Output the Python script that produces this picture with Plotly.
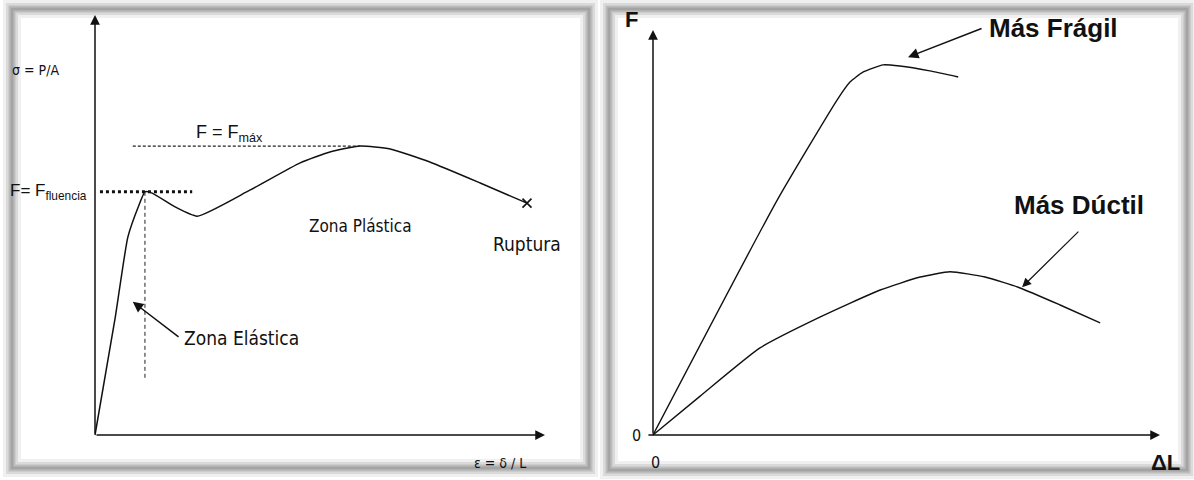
import plotly.graph_objects as go

# ---------------- data (abstract units) ----------------
# Left: stress-strain curve (ε, σ)
strain = [0.0, 0.45, 0.73, 0.98, 1.11, 1.27, 1.78, 2.27, 3.44, 4.56, 5.22, 5.89, 6.56, 7.44, 8.56, 9.60]
stress = [0.0, 2.80, 4.71, 5.48, 5.79, 5.76, 5.43, 5.21, 5.83, 6.48, 6.74, 6.88, 6.81, 6.50, 6.00, 5.52]
yield_strain, yield_stress = 1.11, 5.79
max_strain, max_stress = 5.89, 6.88
rupture_strain, rupture_stress = 9.60, 5.52
elastic_limit_low = 1.36

# Right: force-elongation curves (ΔL, F)
fragil_dl = [0.0, 2.45, 3.63, 3.89, 4.14, 4.54, 4.87, 5.46, 6.02]
fragil_f = [0.0, 5.80, 8.27, 8.72, 8.96, 9.14, 9.11, 8.99, 8.84]
ductil_dl = [0.0, 0.93, 2.11, 3.29, 4.48, 5.27, 5.86, 6.55, 7.24, 8.03, 8.82]
ductil_f = [0.0, 0.96, 2.15, 2.91, 3.58, 3.90, 4.03, 3.90, 3.63, 3.21, 2.77]

W, H = 1194, 480
NARROW = "DejaVu Sans Condensed, Liberation Sans Narrow, sans-serif"
SANS = "Liberation Sans, Arial, sans-serif"

fig = go.Figure()

# ---- left panel traces ----
fig.add_trace(go.Scatter(x=strain, y=stress, mode="lines",
                         line=dict(color="#111", width=1.5, shape="spline", smoothing=0.5),
                         xaxis="x", yaxis="y", hoverinfo="skip"))
fig.add_trace(go.Scatter(x=[0.11, 2.16], y=[yield_stress, yield_stress], mode="lines",
                         line=dict(color="#111", width=3, dash="dot"),
                         xaxis="x", yaxis="y", hoverinfo="skip"))
fig.add_trace(go.Scatter(x=[0.84, max_strain], y=[max_stress, max_stress], mode="lines",
                         line=dict(color="#222", width=1.2, dash="3px,2px"),
                         xaxis="x", yaxis="y", hoverinfo="skip"))
fig.add_trace(go.Scatter(x=[yield_strain, yield_strain], y=[yield_stress, elastic_limit_low], mode="lines",
                         line=dict(color="#222", width=1, dash="4px,3px"),
                         xaxis="x", yaxis="y", hoverinfo="skip"))
fig.add_trace(go.Scatter(x=[rupture_strain], y=[rupture_stress], mode="markers",
                         marker=dict(symbol="x-thin", size=9, line=dict(color="#111", width=1.6)),
                         xaxis="x", yaxis="y", hoverinfo="skip"))

# ---- right panel traces ----
fig.add_trace(go.Scatter(x=fragil_dl, y=fragil_f, mode="lines",
                         line=dict(color="#111", width=1.4, shape="spline", smoothing=0.5),
                         xaxis="x2", yaxis="y2", hoverinfo="skip"))
fig.add_trace(go.Scatter(x=ductil_dl, y=ductil_f, mode="lines",
                         line=dict(color="#111", width=1.4, shape="spline", smoothing=0.5),
                         xaxis="x2", yaxis="y2", hoverinfo="skip"))

ann = []


def arrow(x, y, ax, ay, xr, yr, width=1.5, size=1.3, head=2):
    ann.append(dict(x=x, y=y, ax=ax, ay=ay, xref=xr, yref=yr, axref=xr, ayref=yr,
                    text="", showarrow=True, arrowhead=head, arrowsize=size,
                    arrowwidth=width, arrowcolor="#111", font=dict(size=10)))


def label(x, y, text, xr, yr, size, family, xanchor="center", color="#111"):
    ann.append(dict(x=x, y=y, xref=xr, yref=yr, text=text, showarrow=False,
                    xanchor=xanchor, yanchor="middle",
                    font=dict(size=size, family=family, color=color)))


# axes with arrows
arrow(0, 10, 0, 0, "x", "y")
arrow(10, 0, 0, 0, "x", "y")
arrow(0, 10, 0, 0, "x2", "y2")
arrow(10, 0, -0.12, 0, "x2", "y2")

# left annotations
arrow(0.84, 3.17, 1.89, 2.31, "x", "y", width=1.5, size=1.4)
label(1.93, 2.31, "Zona Elástica", "x", "y", 19, NARROW, xanchor="left")
label(5.89, 4.98, "Zona Plástica", "x", "y", 17, NARROW)
label(9.60, 4.54, "Ruptura", "x", "y", 19, NARROW)
label(-1.33, 8.69, "σ = P/A", "x", "y", 14, NARROW)
label(2.98, 7.17, "F = F<sub>máx</sub>", "x", "y", 18, SANS)
label(-1.93, 5.79, "F= F<sub>fluencia</sub>", "x", "y", 17, SANS, xanchor="left")
label(9.0, -0.67, "ε = δ / L", "x", "y", 14, NARROW)

# right annotations
arrow(5.03, 9.33, 6.51, 10.05, "x2", "y2", width=1.5, size=1.4)
arrow(7.28, 3.65, 8.42, 5.06, "x2", "y2", width=1.2, size=1.5)
label(6.58, 10.05, "<b>Más Frágil</b>", "x2", "y2", 26, SANS, xanchor="left")
label(7.08, 5.68, "<b>Más Dúctil</b>", "x2", "y2", 26, SANS, xanchor="left")
label(-0.43, 10.25, "<b>F</b>", "x2", "y2", 22, SANS)
label(-0.32, -0.02, "0", "x2", "y2", 16, NARROW)
label(0.04, -0.67, "0", "x2", "y2", 16, NARROW)
label(10.1, -0.69, "<b>ΔL</b>", "x2", "y2", 22, SANS)


def px(x):
    return x / W


def py(y):
    return 1 - y / H


shapes = []
for (x0, y0, x1, y1) in [(12, 9, 589, 468), (609, 9, 1187, 470)]:
    for wdt, col in [(18, "rgba(0,0,0,0.06)"), (12, "rgba(0,0,0,0.09)"),
                     (7, "rgba(0,0,0,0.13)"), (3, "rgba(0,0,0,0.13)")]:
        shapes.append(dict(type="rect", xref="paper", yref="paper",
                           x0=px(x0), x1=px(x1), y0=py(y1), y1=py(y0),
                           line=dict(color=col, width=wdt), fillcolor="rgba(0,0,0,0)",
                           layer="below"))

ax_common = dict(visible=False, showgrid=False, zeroline=False, fixedrange=True)
fig.update_layout(
    width=W, height=H,
    margin=dict(l=0, r=0, t=0, b=0),
    paper_bgcolor="white", plot_bgcolor="white",
    showlegend=False,
    xaxis=dict(domain=[0, 0.5], range=[-95 / 45, (597 - 95) / 45], **ax_common),
    yaxis=dict(domain=[0, 1], range=[(435 - 480) / 42, 435 / 42], **ax_common),
    xaxis2=dict(domain=[0.5, 1], range=[(597 - 653) / 50.7, (1194 - 653) / 50.7], anchor="y2", **ax_common),
    yaxis2=dict(domain=[0, 1], range=[-45 / 40.5, 435 / 40.5], anchor="x2", **ax_common),
    annotations=ann,
    shapes=shapes,
)

fig.write_html("out.html", config={"displayModeBar": False},
               post_script="document.body.style.margin='0';document.body.style.padding='0';")
